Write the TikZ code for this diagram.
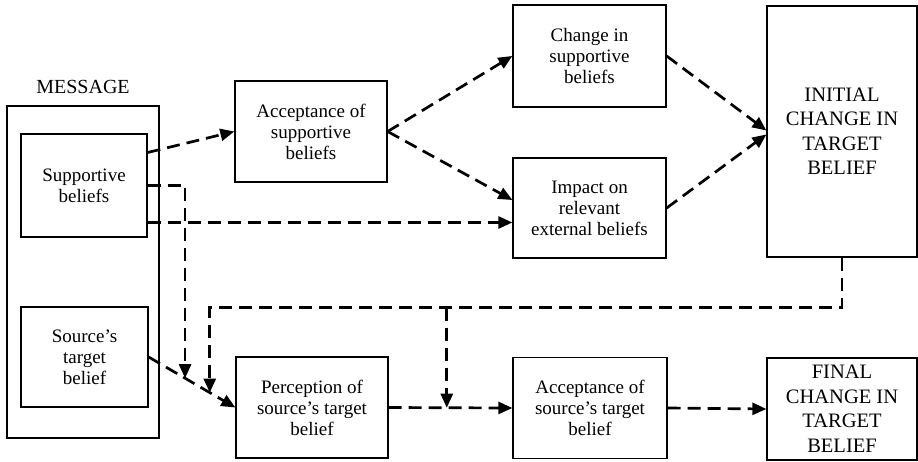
\documentclass[tikz,border=0pt]{standalone}
\usepackage{fontspec}
\setmainfont{Liberation Serif}
\usetikzlibrary{arrows.meta,positioning,calc}
\tikzset{
 box/.style={draw,line width=1.3pt,align=center,font=\fontsize{19}{21}\selectfont,inner sep=2pt,minimum width=152pt,minimum height=101pt},
 capbox/.style={box,font=\fontsize{20.5}{24.5}\selectfont,minimum width=150pt},
 arr/.style={-{Triangle[length=14pt,width=12pt]},line width=2.7pt,dash pattern=on 13pt off 7pt}
}
\begin{document}
\begin{tikzpicture}[x=1pt,y=-1pt]
\useasboundingbox (0,0) rectangle (918,461);
% message and its two parts
\node[draw,line width=1.3pt,minimum width=152pt,minimum height=332pt] (msg) at (83,272) {};
\node[font=\fontsize{20}{21}\selectfont,above=8pt of msg] (msglbl) {MESSAGE};
\node[box,minimum width=126pt,minimum height=103pt] (sup) at (84,185.5) {Supportive\\beliefs};
\node[box,minimum width=127pt,minimum height=100pt] (src) at (84.5,357) {Source's\\target\\belief};
% upper route
\node[box] (accsup) at (311,131.5) {Acceptance of\\supportive\\beliefs};
\node[box,minimum width=153pt,minimum height=102pt] (chg) at (589.5,56) {Change in\\supportive\\beliefs};
\node[box,minimum width=153pt,minimum height=100pt] (imp) at (589.5,208) {Impact on\\relevant\\external beliefs};
\node[capbox,minimum height=251pt] (init) at (842,131.5) {INITIAL\\CHANGE IN\\TARGET\\BELIEF};
% lower route
\node[box] (perc) at (312,407.5) {Perception of\\source's target\\belief};
\node[box,minimum width=154pt] (accsrc) at (590,408) {Acceptance of\\source's target\\belief};
\node[capbox,minimum height=102pt] (final) at (842,409) {FINAL\\CHANGE IN\\TARGET\\BELIEF};
% junctions
\coordinate (s1) at ([yshift=33pt]sup.east);
\coordinate (s3) at ([yshift=-37pt]sup.east);
\coordinate (j1) at ($(src.east)!0.42!(perc.west)$);
\coordinate (j2) at ($(src.east)!0.705!(perc.west)$);
\coordinate (j3) at ($(perc.east)!0.47!(accsrc.west)$);
\coordinate (fb) at ($(init.south)+(0,50)$);
\foreach \a/\b in {s1/accsup.west,src.east/perc.west,accsup.east/chg.west,perc.east/accsrc.west,accsrc.east/final.west} \draw[arr] (\a)--(\b);
\draw[arr] (accsup.east) -- ([yshift=8pt]imp.west);
\draw[arr] (chg.east) -- ([yshift=1pt]init.west);
\draw[arr] (imp.east) -- ([yshift=-3pt]init.west);
\draw[arr] (sup.east) -| (j1);
\draw[arr] (s3) -- (s3 -| imp.west);
\draw[arr] (init.south) -- (fb) -| (j2);
\draw[arr] (fb -| j3) -- (j3);
\end{tikzpicture}
\end{document}
